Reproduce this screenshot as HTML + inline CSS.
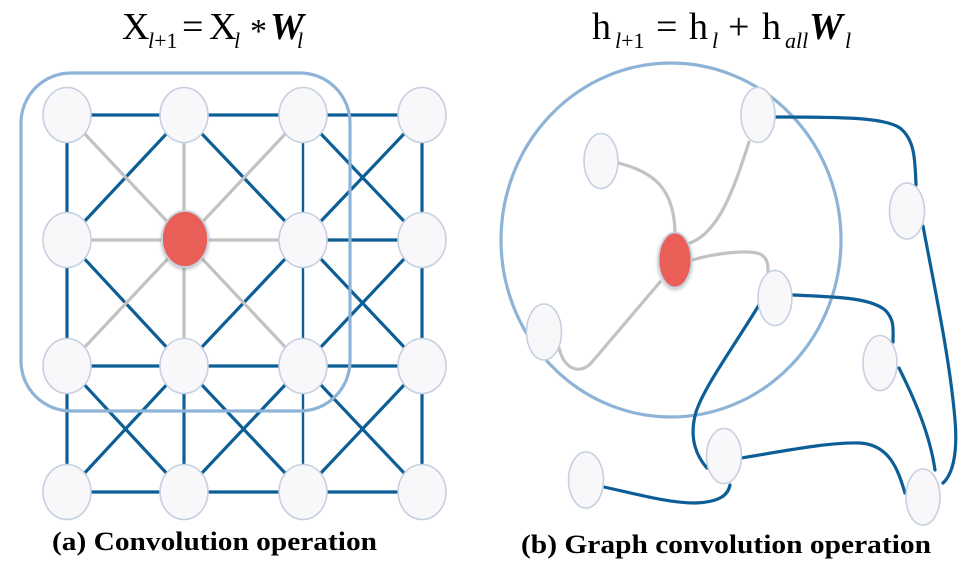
<!DOCTYPE html>
<html><head><meta charset="utf-8"><style>
html,body{margin:0;padding:0;background:#fff;}
svg{display:block;}
</style></head><body>
<svg width="966" height="566" viewBox="0 0 966 566" xmlns="http://www.w3.org/2000/svg">
<defs>
<filter id="sh" x="-30%" y="-30%" width="160%" height="160%"><feDropShadow dx="0" dy="1.5" stdDeviation="1.5" flood-color="#000" flood-opacity="0.25"/></filter>
</defs>
<g font-family="Liberation Serif, serif" fill="#000">
<!-- left formula -->
<text x="122" y="39" font-size="38">X</text>
<text x="148" y="48" font-size="22"><tspan font-style="italic">l</tspan>+1</text>
<text x="182" y="39" font-size="38">=</text>
<text x="209" y="39" font-size="38">X</text>
<text x="234" y="48" font-size="22" font-style="italic">l</text>
<text x="250" y="42" font-size="34">*</text>
<text x="270" y="39" font-size="38" font-weight="bold" font-style="italic">W</text>
<text x="297" y="48" font-size="22" font-style="italic">l</text>
<!-- right formula -->
<text x="592" y="39" font-size="38">h</text>
<text x="615" y="48" font-size="22"><tspan font-style="italic">l</tspan>+1</text>
<text x="656" y="39" font-size="38">=</text>
<text x="689" y="39" font-size="38">h</text>
<text x="712" y="48" font-size="22" font-style="italic">l</text>
<text x="728" y="39" font-size="38">+</text>
<text x="762" y="39" font-size="38">h</text>
<text x="785" y="48" font-size="22" font-style="italic">all</text>
<text x="809" y="39" font-size="38" font-weight="bold" font-style="italic">W</text>
<text x="845" y="48" font-size="22" font-style="italic">l</text>
<!-- captions -->
<text x="52" y="550" font-size="26" font-weight="bold" textLength="325" lengthAdjust="spacingAndGlyphs">(a) Convolution operation</text>
<text x="521" y="553" font-size="26" font-weight="bold" textLength="410" lengthAdjust="spacingAndGlyphs">(b) Graph convolution operation</text>
</g>

<!-- LEFT GRID -->
<g stroke-linecap="round" fill="none">
<g stroke="#0d5e96" stroke-width="3.2">
<!-- horizontals -->
<line x1="67" y1="115" x2="422" y2="115"/>
<line x1="303" y1="240" x2="422" y2="240"/>
<line x1="67" y1="366" x2="422" y2="366"/>
<line x1="67" y1="492" x2="422" y2="492"/>
<!-- verticals -->
<line x1="67" y1="115" x2="67" y2="492"/>
<line x1="184" y1="366" x2="184" y2="492"/>
<line x1="303" y1="115" x2="303" y2="492" stroke-width="2.4"/>
<line x1="422" y1="115" x2="422" y2="492"/>
<!-- diagonals -->
<line x1="184" y1="115" x2="67" y2="240"/>
<line x1="184" y1="115" x2="303" y2="240"/>
<line x1="303" y1="115" x2="422" y2="240"/>
<line x1="422" y1="115" x2="303" y2="240"/>
<line x1="67" y1="240" x2="184" y2="366"/>
<line x1="303" y1="240" x2="184" y2="366"/>
<line x1="303" y1="240" x2="422" y2="366"/>
<line x1="422" y1="240" x2="303" y2="366"/>
<line x1="67" y1="366" x2="184" y2="492"/>
<line x1="184" y1="366" x2="67" y2="492"/>
<line x1="184" y1="366" x2="303" y2="492"/>
<line x1="303" y1="366" x2="184" y2="492"/>
<line x1="303" y1="366" x2="422" y2="492"/>
<line x1="422" y1="366" x2="303" y2="492"/>
</g>
<g stroke="#c2c2c2" stroke-width="3.2">
<line x1="67" y1="240" x2="303" y2="240"/>
<line x1="184" y1="115" x2="184" y2="366"/>
<line x1="67" y1="115" x2="303" y2="366"/>
<line x1="303" y1="115" x2="67" y2="366"/>
</g>
</g>
<rect x="21" y="73" width="329" height="338" rx="50" ry="50" fill="none" stroke="#8db4d6" stroke-width="3.2"/>
<g fill="#f8f8fa" stroke="#c6d0e0" stroke-width="1.6">
<ellipse cx="67" cy="115" rx="24" ry="27.5"/>
<ellipse cx="184" cy="115" rx="24" ry="27.5"/>
<ellipse cx="303" cy="115" rx="24" ry="27.5"/>
<ellipse cx="422" cy="115" rx="24" ry="27.5"/>
<ellipse cx="67" cy="240" rx="24" ry="27.5"/>
<ellipse cx="303" cy="240" rx="24" ry="27.5"/>
<ellipse cx="422" cy="240" rx="24" ry="27.5"/>
<ellipse cx="67" cy="366" rx="24" ry="27.5"/>
<ellipse cx="184" cy="366" rx="24" ry="27.5"/>
<ellipse cx="303" cy="366" rx="24" ry="27.5"/>
<ellipse cx="422" cy="366" rx="24" ry="27.5"/>
<ellipse cx="67" cy="492" rx="24" ry="27.5"/>
<ellipse cx="184" cy="492" rx="24" ry="27.5"/>
<ellipse cx="303" cy="492" rx="24" ry="27.5"/>
<ellipse cx="422" cy="492" rx="24" ry="27.5"/>
</g>
<ellipse cx="185" cy="239" rx="23" ry="28" fill="#e95f58" stroke="#c8d3e2" stroke-width="1.8" filter="url(#sh)"/>

<!-- RIGHT GRAPH -->
<ellipse cx="671" cy="240" rx="170" ry="177" fill="none" stroke="#8db4d6" stroke-width="3.2"/>
<g fill="none" stroke-linecap="round">
<g stroke="#c2c2c2" stroke-width="3.2">
<path d="M618 163 C 655 172, 675 190, 675 235"/>
<path d="M749 142 C 735 185, 720 232, 690 243"/>
<path d="M692 260 C 720 252, 750 250, 760 254 C 768 258, 768 265, 768 272"/>
<path d="M660 282 L 592 362 C 582 374, 565 372, 559 348"/>
</g>
<g stroke="#0d5e96" stroke-width="3.2">
<path d="M776 117 C 850 117, 885 118, 900 128 C 915 140, 915 160, 916 185"/>
<path d="M923 226 C 935 290, 950 360, 955 420 C 958 455, 952 475, 943 483"/>
<path d="M793 295 C 840 297, 870 298, 885 310 C 895 320, 893 330, 893 342"/>
<path d="M899 368 C 915 400, 930 435, 935 470"/>
<path d="M762 300 C 735 345, 705 385, 696 412 C 688 440, 698 458, 707 468"/>
<path d="M741 458 C 790 450, 830 442, 860 443 C 890 445, 898 470, 905 493"/>
<path d="M604 487 C 640 495, 670 503, 695 503 C 720 502, 728 495, 730 485"/>
</g>
</g>
<g fill="#f8f8fa" stroke="#c6d0e0" stroke-width="1.6">
<ellipse cx="758" cy="115" rx="17" ry="27.5"/>
<ellipse cx="601" cy="161" rx="17" ry="27.5"/>
<ellipse cx="907" cy="211" rx="17.5" ry="28"/>
<ellipse cx="775" cy="298" rx="17" ry="27.5"/>
<ellipse cx="880" cy="363" rx="17" ry="27.5"/>
<ellipse cx="544" cy="332" rx="17.5" ry="28"/>
<ellipse cx="724" cy="456" rx="17.5" ry="27.5"/>
<ellipse cx="586" cy="480" rx="17.5" ry="28"/>
<ellipse cx="923" cy="497" rx="17" ry="28"/>
</g>
<ellipse cx="675" cy="260" rx="16.5" ry="27.5" fill="#e95f58" stroke="#c8d3e2" stroke-width="1.8" filter="url(#sh)"/>
</svg>
</body></html>
